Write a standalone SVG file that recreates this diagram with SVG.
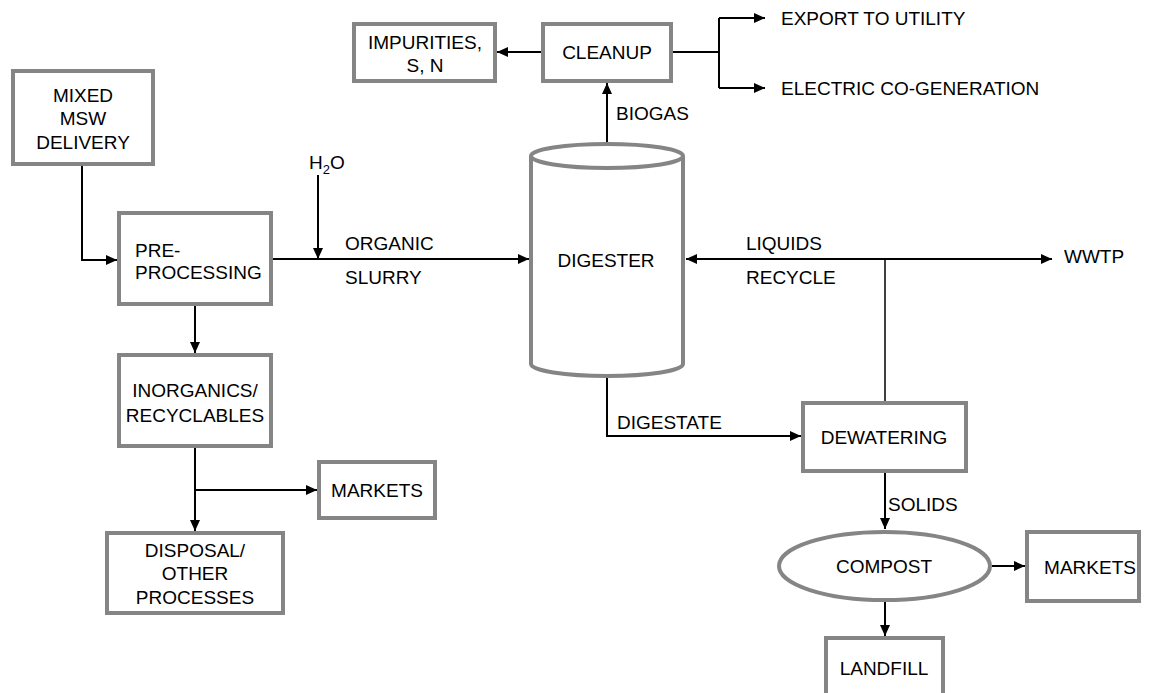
<svg xmlns="http://www.w3.org/2000/svg" width="1150" height="693" viewBox="0 0 1150 693">
<style>
.box{fill:#fff;stroke:#858585;stroke-width:4}
.t{font-family:"Liberation Sans",Arial,sans-serif;font-size:19px;fill:#000}
.m{text-anchor:middle}
.c{fill:none;stroke:#000;stroke-width:2}
.thin{fill:none;stroke:#000;stroke-width:1.5}
</style>
<defs>
<marker id="ah" markerUnits="userSpaceOnUse" markerWidth="11" markerHeight="10" refX="11" refY="5" orient="auto-start-reverse">
<path d="M0,0 L11,5 L0,10 z" fill="#000"/>
</marker>
</defs>
<rect width="1150" height="693" fill="#fff"/>
<g id="connectors">
<path class="c" d="M82,166 V260 H117" marker-end="url(#ah)"/>
<path class="c" d="M273,259 H529" marker-end="url(#ah)"/>
<path class="c" d="M318,175 V259" marker-end="url(#ah)"/>
<path class="c" d="M195,306 V353" marker-end="url(#ah)"/>
<path class="c" d="M195,448 V531" marker-end="url(#ah)"/>
<path class="c" d="M195,490 H317" marker-end="url(#ah)"/>
<path class="c" d="M607,144 V83" marker-end="url(#ah)"/>
<path class="c" d="M541,52 H497" marker-end="url(#ah)"/>
<path class="c" d="M673,52 H719"/>
<path class="c" d="M719,88 V18"/>
<path class="c" d="M719,18 H765" marker-end="url(#ah)"/>
<path class="c" d="M719,88 H765" marker-end="url(#ah)"/>
<path class="c" d="M686,259 H1052" marker-start="url(#ah)" marker-end="url(#ah)"/>
<path class="thin" d="M885,259 V401"/>
<path class="c" d="M607,377 V436 H801" marker-end="url(#ah)"/>
<path class="c" d="M885,473 V529" marker-end="url(#ah)"/>
<path class="c" d="M992,566 H1025" marker-end="url(#ah)"/>
<path class="c" d="M885,602 V636" marker-end="url(#ah)"/>
</g>
<g id="labels">
<text class="t" x="309" y="169">H<tspan font-size="13" dy="5">2</tspan><tspan dy="-5">O</tspan></text>
<text class="t" x="345" y="250">ORGANIC</text>
<text class="t" x="345" y="284">SLURRY</text>
<text class="t" x="746" y="250">LIQUIDS</text>
<text class="t" x="746" y="284">RECYCLE</text>
<text class="t" x="1064" y="263">WWTP</text>
<text class="t" x="616" y="120">BIOGAS</text>
<text class="t" x="781" y="25">EXPORT TO UTILITY</text>
<text class="t" x="781" y="95">ELECTRIC CO-GENERATION</text>
<text class="t" x="617" y="429">DIGESTATE</text>
<text class="t" x="888" y="511">SOLIDS</text>
</g>
<g id="mixed-msw">
<rect class="box" x="13" y="71" width="140" height="93"/>
<text class="t m" x="83" y="102">MIXED</text>
<text class="t m" x="83" y="125">MSW</text>
<text class="t m" x="83" y="149">DELIVERY</text>
</g>
<g id="preprocessing">
<rect class="box" x="119" y="213" width="152" height="91"/>
<text class="t" x="135" y="257">PRE-</text>
<text class="t" x="135" y="279">PROCESSING</text>
</g>
<g id="inorganics">
<rect class="box" x="119" y="355" width="152" height="91"/>
<text class="t m" x="195" y="397">INORGANICS/</text>
<text class="t m" x="195" y="422">RECYCLABLES</text>
</g>
<g id="disposal">
<rect class="box" x="107" y="533" width="176" height="80"/>
<text class="t m" x="195" y="557">DISPOSAL/</text>
<text class="t m" x="195" y="580">OTHER</text>
<text class="t m" x="195" y="604">PROCESSES</text>
</g>
<g id="markets-left">
<rect class="box" x="319" y="462" width="116" height="56"/>
<text class="t m" x="377" y="497">MARKETS</text>
</g>
<g id="impurities">
<rect class="box" x="354" y="24" width="141" height="57"/>
<text class="t m" x="425" y="49">IMPURITIES,</text>
<text class="t m" x="425" y="72">S, N</text>
</g>
<g id="cleanup">
<rect class="box" x="543" y="24" width="128" height="57"/>
<text class="t m" x="607" y="59">CLEANUP</text>
</g>
<g id="digester">
<path class="box" d="M531,156 L531,364 A76,12 0 0 0 683,364 L683,156"/>
<ellipse class="box" cx="607" cy="156" rx="76" ry="12"/>
<text class="t m" x="606" y="267">DIGESTER</text>
</g>
<g id="dewatering">
<rect class="box" x="803" y="403" width="163" height="68"/>
<text class="t m" x="884" y="444">DEWATERING</text>
</g>
<g id="compost">
<ellipse class="box" cx="884.5" cy="566" rx="105.5" ry="34"/>
<text class="t m" x="884" y="573">COMPOST</text>
</g>
<g id="markets-right">
<rect class="box" x="1027" y="532" width="112" height="69"/>
<text class="t m" x="1090" y="574">MARKETS</text>
</g>
<g id="landfill">
<rect class="box" x="826" y="638" width="117" height="70"/>
<text class="t m" x="884" y="675">LANDFILL</text>
</g>
</svg>
